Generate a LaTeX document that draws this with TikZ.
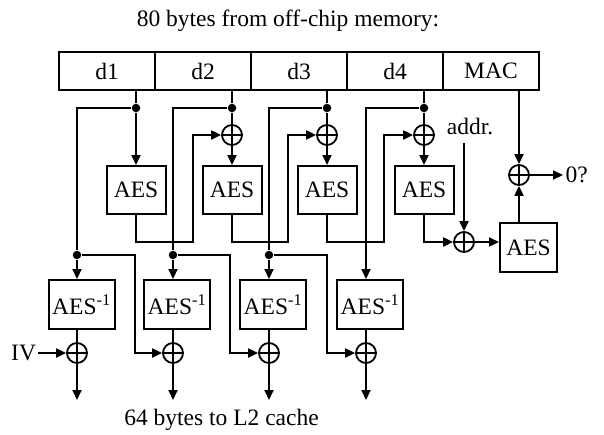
\documentclass[tikz,border=0pt]{standalone}
\usepackage{fontspec}
\setmainfont{Liberation Serif}
\usetikzlibrary{arrows.meta}
\begin{document}
\begin{tikzpicture}[x=1pt,y=-1pt,line width=2pt,
  >={Triangle[length=10pt,width=9pt]},
  lbl/.style={font=\fontsize{23.5}{27}\selectfont},
  cell/.style={draw,minimum width=96pt,minimum height=38pt,inner sep=0pt,anchor=north west,lbl},
  aesbox/.style={draw,minimum width=59pt,minimum height=48pt,inner sep=0pt,lbl},
  invbox/.style={draw,minimum width=66pt,minimum height=49pt,inner sep=0pt,lbl},
  dot/.style={circle,fill,inner sep=0pt,minimum size=8.5pt},
  xor/.style={draw,circle,minimum size=20pt,inner sep=0pt,line width=1.8pt,
    path picture={\draw[line width=1.6pt] (path picture bounding box.north) -- (path picture bounding box.south)
      (path picture bounding box.west) -- (path picture bounding box.east);}},
  txt/.style={inner sep=0pt}
]
\useasboundingbox (0,0) rectangle (604,434);

% title and bar
\node[lbl,txt,anchor=base] (title) at (288,26) {80 bytes from off-chip memory:};
\node[cell] (d1) at (58,51) {d1};
\node[cell] (d2) at (154,51) {d2};
\node[cell] (d3) at (250,51) {d3};
\node[cell] (d4) at (346,51) {d4};
\node[cell] (mac) at (442,51) {MAC};

% upper dots
\node[dot] (p1) at (136,108) {};
\node[dot] (p2) at (232,108) {};
\node[dot] (p3) at (327,108) {};
\node[dot] (p4) at (424,108) {};

% upper xors
\node[xor] (X2) at (232,135) {};
\node[xor] (X3) at (327,135) {};
\node[xor] (X4) at (424,135) {};

% upper AES
\node[aesbox] (E1) at (136,190) {AES};
\node[aesbox] (E2) at (232,190) {AES};
\node[aesbox] (E3) at (327,190) {AES};
\node[aesbox] (E4) at (424,190) {AES};

% MAC part
\node[xor] (Z) at (464,242) {};
\node[lbl,txt] (addr) at (470,127) {addr.};
\coordinate (a0) at (464,143);
\node[aesbox,minimum width=57pt,minimum height=49pt] (E5) at (528.5,247.5) {AES};
\node[xor] (W) at (519,175) {};
\node[lbl,inner sep=1.5pt,anchor=west] (res) at (563,175) {0?};

% lower dots
\node[dot] (q1) at (77,255) {};
\node[dot] (q2) at (173,255) {};
\node[dot] (q3) at (269,255) {};
\coordinate (q4) at (366,255);

% lower AES^-1
\node[invbox] (D1) at (81.5,304.5) {AES\textsuperscript{-1}};
\node[invbox] (D2) at (177,304.5) {AES\textsuperscript{-1}};
\node[invbox] (D3) at (273,304.5) {AES\textsuperscript{-1}};
\node[invbox] (D4) at (370,304.5) {AES\textsuperscript{-1}};

% lower xors
\node[xor] (Y1) at (77,353) {};
\node[xor] (Y2) at (173,353) {};
\node[xor] (Y3) at (269,353) {};
\node[xor] (Y4) at (366,353) {};

\coordinate (o1) at (77,400);
\coordinate (o2) at (173,400);
\coordinate (o3) at (269,400);
\coordinate (o4) at (366,400);

\node[lbl,inner sep=1pt,anchor=east] (iv) at (38,353) {IV};
\node[lbl,txt,anchor=base] (bot) at (221.5,425) {64 bytes to L2 cache};

% turn points
\coordinate (g1) at (193,242);
\coordinate (g2) at (288,242);
\coordinate (g3) at (384,242);
\coordinate (k1) at (135,353);
\coordinate (k2) at (230,353);
\coordinate (k3) at (327,353);

% data lines from the bar
\draw (p1 |- d1.south) -- (p1);
\draw (p2 |- d2.south) -- (p2);
\draw (p3 |- d3.south) -- (p3);
\draw (p4 |- d4.south) -- (p4);
\draw[->] (p1) -- (E1);
\draw (p2) -- (X2);
\draw (p3) -- (X3);
\draw (p4) -- (X4);
\draw[->] (X2) -- (E2);
\draw[->] (X3) -- (E3);
\draw[->] (X4) -- (E4);

% chaining of the MAC
\draw[->] (E1) |- (g1) |- (X2);
\draw[->] (E2) |- (g2) |- (X3);
\draw[->] (E3) |- (g3) |- (X4);
\draw[->] (E4) |- (Z);
\draw[->] (a0) -- (Z);
\draw[->] (Z) -- (Z -| E5.west);
\draw[->] (W |- E5.north) -- (W);
\draw[->] (W |- mac.south) -- (W);
\draw[->] (W) -- (res);

% ciphertext to decryption
\draw (p1) -| (q1);
\draw (p2) -| (q2);
\draw (p3) -| (q3);
\draw[->] (p4) -| (q4) -- (q4 |- D4.north);
\draw[->] (q1) -- (q1 |- D1.north);
\draw[->] (q2) -- (q2 |- D2.north);
\draw[->] (q3) -- (q3 |- D3.north);

% CBC chaining
\draw[->] (q1) -| (k1) -- (Y2);
\draw[->] (q2) -| (k2) -- (Y3);
\draw[->] (q3) -| (k3) -- (Y4);
\draw[->] (iv) -- (Y1);

% decryption outputs
\draw (Y1 |- D1.south) -- (Y1);
\draw (Y2 |- D2.south) -- (Y2);
\draw (Y3 |- D3.south) -- (Y3);
\draw (Y4 |- D4.south) -- (Y4);
\draw[->] (Y1) -- (o1);
\draw[->] (Y2) -- (o2);
\draw[->] (Y3) -- (o3);
\draw[->] (Y4) -- (o4);
\end{tikzpicture}
\end{document}
